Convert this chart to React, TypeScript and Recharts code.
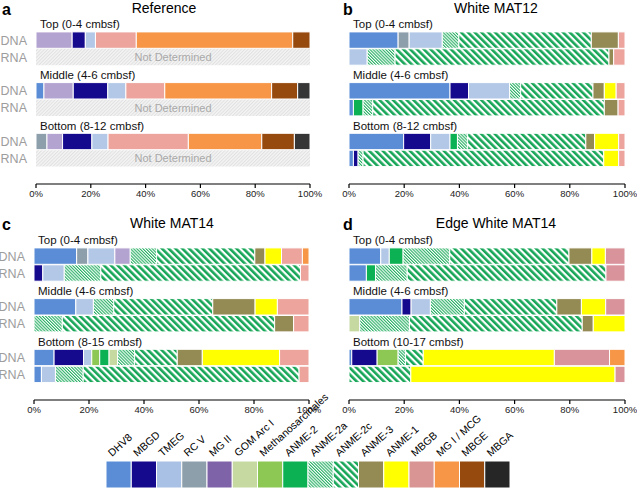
import React from 'react';
import { BarChart, Bar, XAxis, YAxis, LabelList } from 'recharts';

const FONT = '"Liberation Sans", Arial, Helvetica, sans-serif';

const TAXA = ['DHV8', 'MBGD', 'TMEG', 'RC V', 'MG II', 'GOM Arc I', 'Methanosarcinales', 'ANME-2', 'ANME-2a', 'ANME-2c', 'ANME-3', 'ANME-1', 'MBGB', 'MG I / MCG', 'MBGE', 'MBGA'];
const BAR_COLORS = ['#5b8dd6', '#15098e', '#b3c8e7', '#8e9fac', '#b3a3d0', '#c5d9a0', '#8dc855', '#0bb152', 'url(#pat2a)', 'url(#pat2c)', '#948a54', '#ffff00', '#eca49d', '#f79646', '#974a0e', '#363636'];
const LEGEND_COLORS = ['#5b8dd6', '#15098e', '#a9c1e4', '#8e9fac', '#7f63a8', '#c5d9a0', '#8dc855', '#0bb152', 'url(#pat2a)', 'url(#pat2c)', '#948a54', '#ffff00', '#d99594', '#f79646', '#974a0e', '#262626'];
const X_TICKS = [0, 20, 40, 60, 80, 100];

const DEPTHS_A = ['Top (0-4 cmbsf)', 'Middle (4-6 cmbsf)', 'Bottom (8-12 cmbsf)'];
const DEPTHS_B = ['Top (0-4 cmbsf)', 'Middle (4-6 cmbsf)', 'Bottom (8-12 cmbsf)'];
const DEPTHS_C = ['Top (0-4 cmbsf)', 'Middle (4-6 cmbsf)', 'Bottom (8-15 cmbsf)'];
const DEPTHS_D = ['Top (0-4 cmbsf)', 'Middle (4-6 cmbsf)', 'Bottom (10-17 cmbsf)'];

// order:            DHV8 MBGD TMEG RCV  MGII GOM  Meth A2   A2a  A2c  A3   A1   MBGB MCG  MBGE MBGA
const refTopDNA =   [0,   4.8, 3.7, 0,   13.2, 0,   0,   0,   0,   0,   0,   0,   14.9, 57.1, 6.3, 0];
const refMidDNA =   [2.9, 12.6, 6.6, 0,  10.7, 0,   0,   0,   0,   0,   0,   0,   14.2, 39,  9.5, 4.5];
const refBotDNA =   [0,   10.7, 5.9, 4,  5.7, 0,   0,   0,   0,   0,   0,   0,   29.3, 26.8, 11.9, 5.7];

const m12TopDNA =   [17.8, 0,  12,  4,   0,   0,   0,   0,   6,   48,  9.8, 0,   2.4, 0,   0,   0];
const m12TopRNA =   [0,   0,   6.6, 0,   0,   0,   0,   0,   10.1, 77.5, 1.7, 0,  4.1, 0,   0,   0];
const m12MidDNA =   [36.6, 6.7, 14.9, 0, 0,   0,   0,   0,   4,   26.2, 4.1, 4.3, 3.2, 0,   0,   0];
const m12MidRNA =   [1.6, 0,   0,   0,   0,   0,   0,   3.5, 3.5, 83.9, 5,  0,   2.5, 0,   0,   0];
const m12BotDNA =   [19.8, 9.8, 7,  0,   0,   0,   0,   2.7, 3.7, 42.8, 3.2, 8.7, 2.3, 0,  0,   0];
const m12BotRNA =   [1.6, 1.7, 0,   0,   0,   0,   0,   0,   1.8, 87.2, 0,  5.4, 2.3, 0,   0,   0];

const m14TopDNA =   [15.5, 0,  9.8, 4.1, 5.6, 0,   0,   0,   9.6, 35.7, 3.7, 6,  7.6, 2.4, 0,   0];
const m14TopRNA =   [0,   3.2, 7.8, 0,   0,   0,   0,   0,   13.3, 72.6, 0,  0,   3.1, 0,   0,   0];
const m14MidDNA =   [15.2, 0,  6.4, 0,   0,   0,   0,   0,   7.4, 36,  15.4, 8.1, 11.5, 0, 0,   0];
const m14MidRNA =   [0,   0,   0,   0,   0,   0,   0,   0,   10.3, 77.2, 6.9, 0,  5.6, 0,   0,   0];
const m14BotDNA =   [7.3, 10.7, 3,  0,   0,   3.1, 2.9, 3.4, 6.2, 15.5, 9.1, 28.1, 10.7, 0, 0,  0];
const m14BotRNA =   [2.7, 0,   5.1, 0,   0,   0,   0,   0,   10.1, 78.5, 0,  0,   3.6, 0,   0,   0];

const edgTopDNA =   [11.5, 0,  3.1, 0,   0,   0,   0,   5,   16.9, 43.2, 8.3, 4.9, 7.1, 0,  0,   0];
const edgTopRNA =   [6.3, 0,   0,   0,   0,   0,   0,   3.3, 11.5, 72,  0,   0,   6.9, 0,   0,   0];
const edgMidDNA =   [19.2, 3.3, 7,  0,   0,   0,   0,   0,   12.3, 33.5, 8.9, 8.8, 7,  0,   0,   0];
const edgMidRNA =   [0,   0,   0,   0,   0,   3.9, 0,   0,   18,  62.6, 4,   11.5, 0,  0,   0,   0];
const edgBotDNA =   [1,   9.2, 0,   0,   0,   0,   7.6, 0,   2.7, 6.4, 0,   47.5, 20, 5.6, 0,   0];
const edgBotRNA =   [0,   0,   0,   0,   0,   0,   0,   0,   0,   22.4, 0,   74,  3.6, 0,   0,   0];

// stacking order (taxon indices) per panel
const ORDER_A = [0, 3, 4, 1, 2, 12, 13, 14, 15];
const ORDER_B = [0, 1, 3, 2, 7, 8, 9, 10, 11, 12];
const ORDER_C = [0, 1, 3, 2, 4, 6, 7, 5, 8, 9, 10, 11, 12, 13];
const ORDER_D = [0, 1, 2, 5, 6, 7, 8, 9, 10, 11, 12, 13];

const PLOT_H = 169;
const AX_H = 20;

type PanelCfg = {
  depths: string[];
  dna: number[][];
  rna: (number[] | null)[];
  order: number[];
  left: number;
  top: number;
  plotLeft: number;
  plotWidth: number;
  showSide: boolean;
  mbgb?: string;
};

const PANELS: PanelCfg[] = [
  { depths: DEPTHS_A, dna: [refTopDNA, refMidDNA, refBotDNA], rna: [null, null, null], order: ORDER_A, left: 0, top: 15, plotLeft: 36, plotWidth: 274, showSide: true },
  { depths: DEPTHS_B, dna: [m12TopDNA, m12MidDNA, m12BotDNA], rna: [m12TopRNA, m12MidRNA, m12BotRNA], order: ORDER_B, left: 313, top: 15, plotLeft: 349, plotWidth: 276, showSide: false },
  { depths: DEPTHS_C, dna: [m14TopDNA, m14MidDNA, m14BotDNA], rna: [m14TopRNA, m14MidRNA, m14BotRNA], order: ORDER_C, left: 0, top: 231, plotLeft: 34, plotWidth: 275, showSide: true },
  { depths: DEPTHS_D, dna: [edgTopDNA, edgMidDNA, edgBotDNA], rna: [edgTopRNA, edgMidRNA, edgBotRNA], order: ORDER_D, left: 313, top: 231, plotLeft: 349, plotWidth: 276, showSide: false, mbgb: '#d9939a' },
];

function buildRows(p: PanelCfg) {
  const rows: any[] = [];
  p.depths.forEach((d, g) => {
    rows.push({ row: `h${g}`, heading: d });
    const dna: any = { row: `d${g}`, side: 'DNA' };
    p.dna[g].forEach((v, i) => { if (v > 0) dna[`t${i}`] = v; });
    rows.push(dna);
    const rna: any = { row: `r${g}`, side: 'RNA' };
    const r = p.rna[g];
    if (r) r.forEach((v, i) => { if (v > 0) rna[`t${i}`] = v; });
    else rna.nd = 100;
    rows.push(rna);
  });
  rows.push({ row: 'sp' });
  return rows;
}

function Panel({ cfg }: { cfg: PanelCfg }) {
  const rows = buildRows(cfg);
  const yW = cfg.plotLeft - cfg.left;
  const width = yW + cfg.plotWidth + 16;
  const hasND = cfg.rna.some((r) => r === null);
  const renderTick = (props: any) => {
    const { y, payload } = props;
    const r = rows.find((q) => q.row === payload.value);
    if (!r) return <g />;
    if (r.heading) {
      return (
        <text x={yW + 4} y={y + 1} dy="0.35em" fontSize={11.5} fill="#111" fontFamily={FONT}>
          {r.heading}
        </text>
      );
    }
    if (cfg.showSide && r.side) {
      return (
        <text x={yW - 9} y={y} dy="0.35em" textAnchor="end" fontSize={12.5} fill="#9d9d9d" fontFamily={FONT}>
          {r.side}
        </text>
      );
    }
    return <g />;
  };
  return (
    <div style={{ position: 'absolute', left: cfg.left, top: cfg.top }}>
      <BarChart
        layout="vertical"
        width={width}
        height={PLOT_H + AX_H}
        data={rows}
        margin={{ top: 0, right: 16, bottom: 0, left: 0 }}
        barSize={16.4}
        barGap={0}
        barCategoryGap={0}
      >
        <XAxis
          type="number"
          domain={[0, 100]}
          ticks={X_TICKS}
          allowDataOverflow
          height={AX_H}
          tickFormatter={(v: number) => `${v}%`}
          axisLine={{ stroke: '#000', strokeWidth: 1.2 }}
          tickLine={{ stroke: '#000', strokeWidth: 1.2 }}
          tickSize={4}
          tickMargin={2}
          tick={{ fontSize: 9.5, fill: '#222', fontFamily: FONT }}
        />
        <YAxis
          type="category"
          dataKey="row"
          width={yW}
          axisLine={false}
          tickLine={false}
          interval={0}
          tick={renderTick}
        />
        {cfg.order.map((i) => (
          <Bar
            key={i}
            dataKey={`t${i}`}
            stackId="s"
            fill={i === 12 && cfg.mbgb ? cfg.mbgb : BAR_COLORS[i]}
            stroke="#fff"
            strokeWidth={1}
            isAnimationActive={false}
          />
        ))}
        {hasND && (
          <Bar dataKey="nd" stackId="s" fill="url(#patND)" isAnimationActive={false}>
            <LabelList
              dataKey="nd"
              content={(p: any) =>
                p.value ? (
                  <text
                    x={p.x + p.width / 2}
                    y={p.y + p.height / 2}
                    dy="0.35em"
                    textAnchor="middle"
                    fontSize={11}
                    fill="#a9a9a9"
                    fontFamily={FONT}
                  >
                    Not Determined
                  </text>
                ) : null
              }
            />
          </Bar>
        )}
      </BarChart>
    </div>
  );
}

const TITLES = [
  { letter: 'a', lx: 2, title: 'Reference', tx: 164, y: 13 },
  { letter: 'b', lx: 343, title: 'White MAT12', tx: 496, y: 13 },
  { letter: 'c', lx: 2, title: 'White MAT14', tx: 172, y: 228 },
  { letter: 'd', lx: 343, title: 'Edge White MAT14', tx: 496, y: 228 },
];

const LEG_X0 = 106;
const LEG_W = 25.25;
const LEG_Y = 461;
const LEG_H = 27;

export default function App() {
  return (
    <div style={{ position: 'absolute', left: 0, top: 0, width: 637, height: 490, background: '#fff', fontFamily: FONT, overflow: 'hidden' }}>
      <svg width="0" height="0" style={{ position: 'absolute' }}>
        <defs>
          <pattern id="pat2c" patternUnits="userSpaceOnUse" width="4.8" height="4.8" patternTransform="rotate(-45)">
            <rect width="4.8" height="4.8" fill="#ffffff" />
            <rect width="2.6" height="4.8" fill="#17a658" />
          </pattern>
          <pattern id="pat2a" patternUnits="userSpaceOnUse" width="2.2" height="2.2" patternTransform="rotate(-45)">
            <rect width="2.2" height="2.2" fill="#ffffff" />
            <rect width="1.1" height="2.2" fill="#27b063" />
          </pattern>
          <pattern id="patND" patternUnits="userSpaceOnUse" width="2.4" height="2.4" patternTransform="rotate(45)">
            <rect width="2.4" height="2.4" fill="#f4f4f4" />
            <rect width="1" height="2.4" fill="#e0e0e0" />
          </pattern>
        </defs>
      </svg>
      {PANELS.map((p, i) => (
        <Panel key={i} cfg={p} />
      ))}
      <svg width={637} height={490} style={{ position: 'absolute', left: 0, top: 0, pointerEvents: 'none' }}>
        {TITLES.map((t) => (
          <g key={t.letter}>
            <text x={t.lx} y={t.y + 2} fontSize={16} fontWeight="bold" fill="#000" fontFamily={FONT}>
              {t.letter}
            </text>
            <text x={t.tx} y={t.y} textAnchor="middle" fontSize={14} fill="#000" fontFamily={FONT}>
              {t.title}
            </text>
          </g>
        ))}
        {TAXA.map((name, i) => {
          const x = LEG_X0 + i * LEG_W;
          return (
            <g key={name}>
              <rect x={x} y={LEG_Y} width={LEG_W} height={LEG_H} fill={LEGEND_COLORS[i]} stroke="#fff" strokeWidth={1} />
              <text transform={`translate(${x + 6},${LEG_Y - 4}) rotate(-42)`} fontSize={10.5} fill="#000" fontFamily={FONT}>
                {name}
              </text>
            </g>
          );
        })}
      </svg>
    </div>
  );
}
